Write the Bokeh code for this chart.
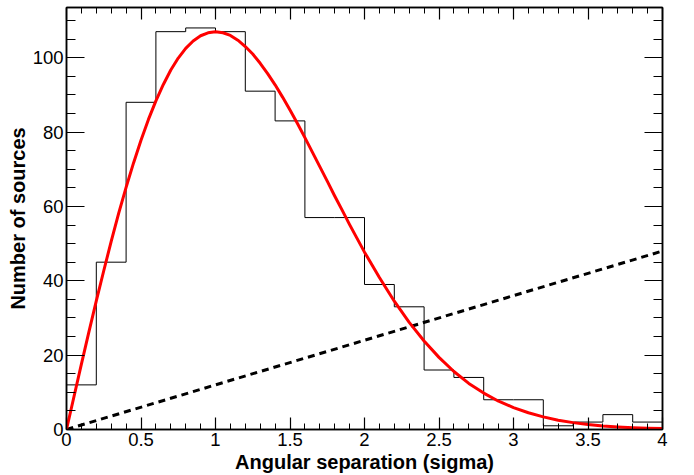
from bokeh.plotting import figure
from bokeh.models import LinearAxis, Range1d, SingleIntervalTicker, CustomJSTickFormatter
from bokeh.embed import file_html
from bokeh.resources import INLINE

# Histogram (bin width 0.2)
bin_edges = [0.0, 0.2, 0.4, 0.6, 0.8, 1.0, 1.2, 1.4, 1.6, 1.8, 2.0,
             2.2, 2.4, 2.6, 2.8, 3.0, 3.2, 3.4, 3.6, 3.8, 4.0]
counts = [12, 45, 88, 107, 108, 107, 91, 83, 57, 57,
          39, 33, 16, 14, 8, 8, 1, 2, 4, 2]

# Red fitted curve
curve_x = [0.0, 0.05, 0.1, 0.15, 0.2, 0.25, 0.3, 0.35, 0.4, 0.45, 0.5, 0.55,
           0.6, 0.65, 0.7, 0.75, 0.8, 0.85, 0.9, 0.95, 1.0, 1.05, 1.1, 1.15,
           1.2, 1.25, 1.3, 1.35, 1.4, 1.45, 1.5, 1.55, 1.6, 1.65, 1.7, 1.75,
           1.8, 1.85, 1.9, 1.95, 2.0, 2.1, 2.2, 2.3, 2.4, 2.5, 2.6, 2.7,
           2.8, 2.9, 3.0, 3.1, 3.2, 3.3, 3.4, 3.5, 3.6, 3.7, 3.8, 3.9, 4.0]
curve_y = [0.0, 8.8, 17.6, 26.2, 34.6, 42.7, 50.6, 58.1, 65.1, 71.7, 77.8, 83.4,
           88.4, 92.8, 96.7, 99.9, 102.5, 104.5, 105.9, 106.7, 107.0, 106.7, 106.0, 104.7,
           103.0, 101.0, 98.5, 95.7, 92.7, 89.4, 85.9, 82.3, 78.5, 74.6, 70.7, 66.8,
           62.8, 59.0, 55.1, 51.4, 47.7, 40.9, 34.5, 28.8, 23.8, 19.4, 15.6, 12.4,
           9.8, 7.6, 5.9, 4.5, 3.4, 2.5, 1.85, 1.35, 0.97, 0.70, 0.49, 0.34, 0.24]

# Dashed linear background
dash_x = [0.0, 4.0]
dash_y = [0.0, 48.0]

FONT = "Liberation Sans"

p = figure(frame_width=596, frame_height=422, width=694, height=475,
           x_range=Range1d(0, 4), y_range=Range1d(0, 113.5),
           output_backend="svg", toolbar_location=None,
           min_border_left=66, min_border_right=32, min_border_top=7, min_border_bottom=46,
           x_axis_type=None, y_axis_type=None)
p.xgrid.visible = False
p.ygrid.visible = False
p.outline_line_color = "black"
p.outline_line_width = 1.5
p.background_fill_color = "white"
p.border_fill_color = "white"

def style_axis(ax, major_in, minor_in, labels=True):
    ax.major_tick_in = major_in
    ax.major_tick_out = 0
    ax.minor_tick_in = minor_in
    ax.minor_tick_out = 0
    ax.axis_line_color = "black"
    ax.axis_line_width = 1.5
    ax.major_tick_line_color = "black"
    ax.minor_tick_line_color = "black"
    ax.major_tick_line_width = 1.2
    ax.minor_tick_line_width = 1
    ax.major_label_text_font = FONT
    ax.major_label_text_font_size = "18.5px"
    ax.major_label_text_color = "black"
    ax.axis_label_text_font = FONT
    ax.axis_label_text_font_style = "bold"
    ax.axis_label_text_font_size = "20px"
    ax.axis_label_text_color = "black"
    if not labels:
        ax.formatter = CustomJSTickFormatter(code="return '';")
        ax.major_label_standoff = 0

xt = lambda: SingleIntervalTicker(interval=0.5, num_minor_ticks=5)
yt = lambda: SingleIntervalTicker(interval=20, num_minor_ticks=4)

xb = LinearAxis(ticker=xt(), axis_label="Angular separation (sigma)")
style_axis(xb, 12, 6)
xb.major_label_standoff = 3
xb.axis_label_standoff = 2
p.add_layout(xb, "below")

xa = LinearAxis(ticker=xt())
style_axis(xa, 12, 6, labels=False)
p.add_layout(xa, "above")

yl = LinearAxis(ticker=yt(), axis_label="Number of sources")
style_axis(yl, 18, 9)
yl.major_label_standoff = 3
yl.axis_label_standoff = 1
p.add_layout(yl, "left")

yr = LinearAxis(ticker=yt())
style_axis(yr, 18, 9, labels=False)
p.add_layout(yr, "right")

step_x = bin_edges
step_y = counts + [counts[-1]]
p.step(step_x, step_y, mode="after", line_color="black", line_width=1)

p.line(dash_x, dash_y, line_color="black", line_width=3, line_dash="7 5")
p.line(curve_x, curve_y, line_color="red", line_width=3, line_join="round")

open("out.html", "w").write(file_html(p, INLINE))
